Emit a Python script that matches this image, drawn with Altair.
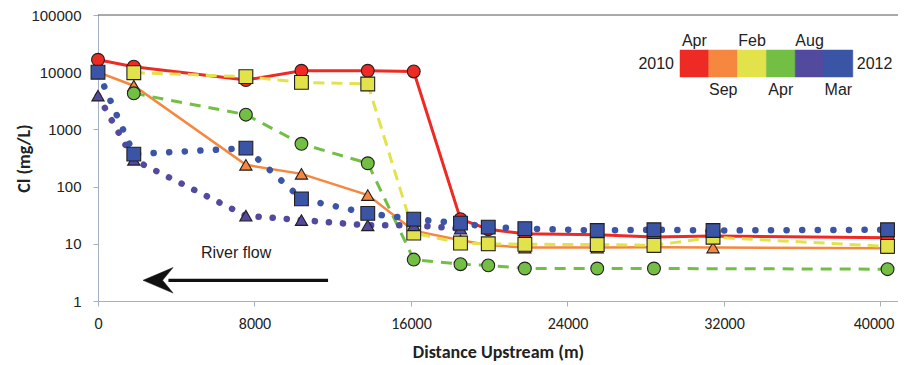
import altair as alt
import pandas as pd

# ---------------- data ----------------
sites = [0, 1830, 7560, 10400, 13790, 16140, 18530, 19950, 21820, 25520, 28420, 31440, 40360]

series_names = ["Apr 2010", "Sep 2010", "Feb 2011", "Apr 2011", "Aug 2011", "Mar 2012"]
apr2010 = [16500, 12500, 7300, 10600, 10600, 10300, 27, 18, 15, 14.4, 13.1, 13.7, 12.8]
sep2010 = [10000, 5800, 240, 167, 71, 17, 11.5, 9.5, 8.6, 8.6, 8.7, 8.6, 8.4]
feb2011 = [None, 9800, 8350, 6640, 6220, 15.4, 10.3, 10, 9.8, 9.7, 9.4, 13, 9.0]
apr2011 = [None, 4270, 1810, 560, 256, 5.3, 4.4, 4.2, 3.7, 3.7, 3.7, None, 3.6]
aug2011 = [3900, 294, 31, 26, 21, 21, 18.4, None, None, None, None, None, None]
mar2012 = [10000, 370, 470, 61, 34, 27, 23, 19.6, 18.4, 17.1, 17.6, 17.1, 17.6]
all_values = [apr2010, sep2010, feb2011, apr2011, aug2011, mar2012]

colors = ["#ee2a24", "#f5873f", "#e2e34a", "#72bf44", "#524a9f", "#3a55a6"]
shapes = ["circle", "triangle-up", "square", "circle", "triangle-up", "square"]
legend_top = ["Apr", "", "Feb", "", "Aug", ""]
legend_bottom = ["", "Sep", "", "Apr", "", "Mar"]

x_ticks = [0, 8000, 16000, 24000, 32000, 40000]
y_ticks = [1, 10, 100, 1000, 10000, 100000]

arrow_tail_x = 11760
arrow_head_x = 3070
arrow_rule_end_x = 3600
arrow_y = 2.3
river_label = "River flow"
river_label_x = 7060
river_label_y = 6.8

rows = []
for name, vals in zip(series_names, all_values):
    for xv, yv in zip(sites, vals):
        if yv is not None:
            rows.append({"series": name, "dist": xv, "cl": yv})
df = pd.DataFrame(rows)

# ---------------- styles ----------------
line_styles = {
    "Apr 2010": dict(strokeWidth=3),
    "Sep 2010": dict(strokeWidth=2.5),
    "Feb 2011": dict(strokeWidth=3, strokeDash=[11, 7]),
    "Apr 2011": dict(strokeWidth=3, strokeDash=[11, 8]),
    "Aug 2011": dict(strokeWidth=6.5, strokeDash=[0.1, 14], strokeCap="round"),
    "Mar 2012": dict(strokeWidth=6.5, strokeDash=[0.1, 15.5], strokeCap="round"),
}
point_sizes = {"circle": 165, "triangle-up": 150, "square": 190}

AXIS_COL = "#a2b2c0"
NARROW = "Carlito, Lato, sans-serif"
PLAIN = "Liberation Sans, Arial, sans-serif"
W, H = 800, 286

x_enc = alt.X("dist:Q",
              scale=alt.Scale(domain=[0, 40895], nice=False, zero=False),
              axis=alt.Axis(values=x_ticks, format="d", title="Distance Upstream (m)",
                            labelFont=NARROW, labelFontSize=16,
                            labelColor="#222", tickSize=5, labelPadding=9,
                            labelFlush=False, labelOverlap=False,
                            labelOffset={"condition": {"test": "datum.value == 40000", "value": -7},
                                         "value": 0},
                            titleFont=NARROW, titleFontSize=18,
                            titleFontWeight="bold", titleColor="#222", titlePadding=12,
                            domainColor=AXIS_COL, tickColor=AXIS_COL, grid=False))
y_enc = alt.Y("cl:Q",
              scale=alt.Scale(type="log", domain=[1, 100000], nice=False),
              axis=alt.Axis(values=y_ticks, format="d", title="Cl (mg/L)",
                            labelFont=PLAIN, labelFontSize=15,
                            labelColor="#222", tickSize=5, labelPadding=12,
                            titleFont=NARROW, titleFontSize=18,
                            titleFontWeight="bold", titleColor="#222",
                            titleX=-74, titleY=H / 2, titleBaseline="middle",
                            domainColor=AXIS_COL, tickColor=AXIS_COL, grid=False))

base = alt.Chart(df)

layers = []
# top border line
layers.append(alt.Chart(pd.DataFrame({"cl": [100000]})).mark_rule(color="#555", strokeWidth=1)
              .encode(y=alt.Y("cl:Q")))
# lines
for name, col in zip(series_names, colors):
    layers.append(base.transform_filter(alt.datum.series == name)
                  .mark_line(color=col, **line_styles[name])
                  .encode(x=x_enc, y=y_enc))
# markers
for name, col, shp in zip(series_names, colors, shapes):
    layers.append(base.transform_filter(alt.datum.series == name)
                  .mark_point(shape=shp, filled=True, fill=col, fillOpacity=1,
                              stroke="#231f20", strokeWidth=1.1, opacity=1,
                              size=point_sizes[shp])
                  .encode(x="dist:Q", y="cl:Q"))

# arrow annotation
arrow_df = pd.DataFrame({"dist": [arrow_rule_end_x], "dist2": [arrow_tail_x], "cl": [arrow_y]})
layers.append(alt.Chart(arrow_df).mark_rule(color="#111", strokeWidth=3.2)
              .encode(x="dist:Q", x2="dist2:Q", y="cl:Q"))
head_df = pd.DataFrame({"dist": [arrow_head_x], "cl": [arrow_y]})
layers.append(alt.Chart(head_df).mark_point(
    shape="M -1 0 L 1 -0.85 L 0.3 0 L 1 0.85 Z", filled=True, fill="#111",
    stroke="#111", strokeWidth=0.5, opacity=1, size=900)
    .encode(x="dist:Q", y="cl:Q"))
txt_df = pd.DataFrame({"dist": [river_label_x], "cl": [river_label_y], "t": [river_label]})
layers.append(alt.Chart(txt_df).mark_text(font=PLAIN, fontSize=16, color="#222")
              .encode(x="dist:Q", y="cl:Q", text="t:N"))

# colour-bar legend (top right)
leg_x0, cell_w, leg_y0, leg_y1 = 582, 28.8, 35, 62
one = pd.DataFrame({"k": [0]})
for i, col in enumerate(colors):
    layers.append(alt.Chart(one).mark_rect(color=col, stroke=col, strokeWidth=0.5).encode(
        x=alt.value(leg_x0 + i * cell_w), x2=alt.value(leg_x0 + (i + 1) * cell_w),
        y=alt.value(leg_y0), y2=alt.value(leg_y1)))
    if legend_top[i]:
        layers.append(alt.Chart(one).mark_text(font=PLAIN, fontSize=16, color="#222",
                                               baseline="alphabetic").encode(
            x=alt.value(leg_x0 + (i + 0.5) * cell_w), y=alt.value(leg_y0 - 4),
            text=alt.value(legend_top[i])))
    if legend_bottom[i]:
        layers.append(alt.Chart(one).mark_text(font=PLAIN, fontSize=16, color="#222",
                                               baseline="top").encode(
            x=alt.value(leg_x0 + (i + 0.5) * cell_w), y=alt.value(leg_y1 + 5),
            text=alt.value(legend_bottom[i])))
layers.append(alt.Chart(one).mark_text(font=PLAIN, fontSize=16, color="#222",
                                       align="right", baseline="middle").encode(
    x=alt.value(leg_x0 - 6), y=alt.value((leg_y0 + leg_y1) / 2), text=alt.value("2010")))
layers.append(alt.Chart(one).mark_text(font=PLAIN, fontSize=16, color="#222",
                                       align="left", baseline="middle").encode(
    x=alt.value(leg_x0 + 6 * cell_w + 4), y=alt.value((leg_y0 + leg_y1) / 2), text=alt.value("2012")))

chart = alt.layer(*layers).properties(
    width=W, height=H,
    autosize=alt.AutoSizeParams(type="none"),
    padding={"left": 90, "top": 7, "right": 0, "bottom": 60},
    background="white",
).configure_view(stroke=None)

chart.save("out.html", embed_options={"renderer": "svg", "actions": False})
